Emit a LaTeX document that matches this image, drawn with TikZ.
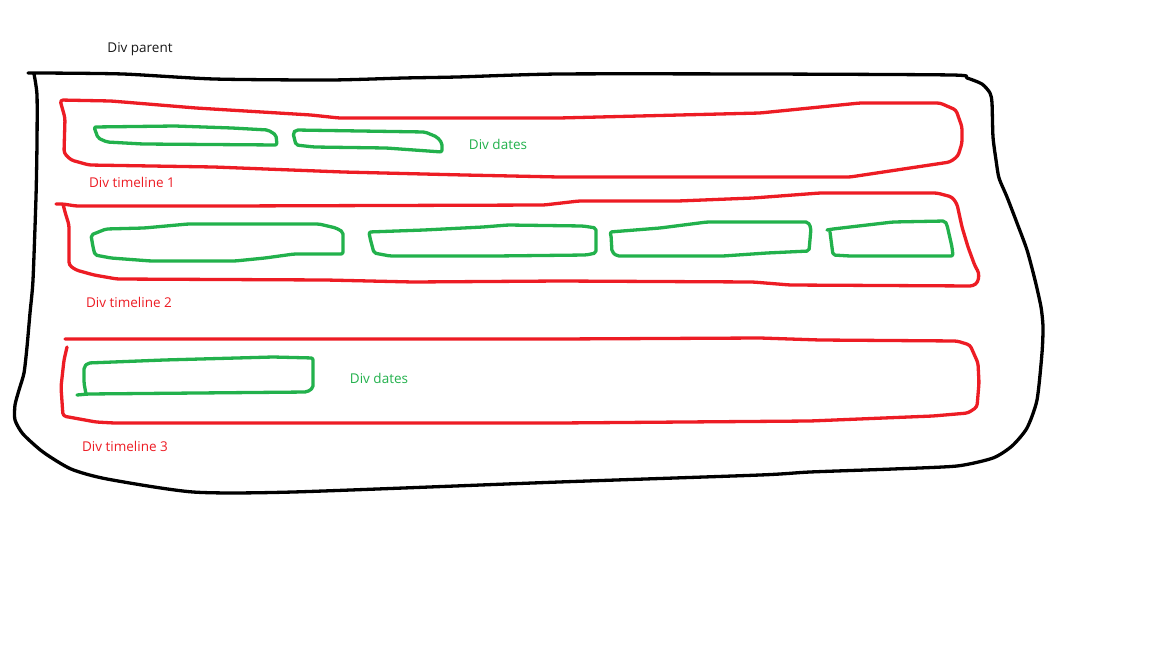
\documentclass[tikz,border=0pt]{standalone}
\usepackage{fontspec}
\setmainfont{Open Sans}
\usepackage{tikz}

\definecolor{paintred}{HTML}{ED1C24}
\definecolor{paintgreen}{HTML}{22B14C}

\begin{document}
\begin{tikzpicture}[x=1pt,y=-1pt,
    line join=round, line cap=round,
    parentline/.style = {draw=black, line width=3.3pt},
    timeline/.style = {draw=paintred, line width=3.3pt, rounded corners=3pt},
    dates/.style = {draw=paintgreen, line width=3.3pt, rounded corners=2pt},
    lbl/.style = {inner sep=0pt, font=\fontsize{13.5}{16}\selectfont}
    ]

    \useasboundingbox[fill=white] (0,0) rectangle (1152,648);

    % div parent
    \draw[parentline] plot[smooth, tension=0.4] coordinates {
        (28,73) (43,73) (123,74) (214,79) (330,80) (404,78) (457,77)
        (559,74) (760,74) (952,75) (967,78) (982,84) (990,93) (992,103)
        (993,137) (996,160) (999,178) (1007,197) (1017,223) (1027,250)
        (1035,280) (1041,307) (1043,327) (1042,353) (1037,400) (1027,428)
        (1012,446) (993,458) (957,466) (893,469) (810,472) (760,475)
        (559,482) (293,492) (193,492) (107,479) (71,469) (43,452)
        (23,434) (15,420) (15,405) (19,390) (24,373) (27,347) (30,313)
        (33,280) (36,197) (37,143) (37,95) (34,74)};
    \node[lbl, text=black!90] (parent) at (140,49) {Div parent};

    % timeline 1
    \draw[timeline] (60,100) -- (111,101) -- (196,108) -- (311,115)
        -- (339,118) -- (559,118) -- (760,113) -- (860,103) -- (940,103)
        -- (956,110) -- (962,127) -- (962,143) -- (958,156) -- (950,162)
        -- (910,168) -- (850,177) -- (760,177) -- (559,177) -- (464,175)
        -- (343,172) -- (214,167) -- (89,165) -- (71,160) -- (64,153)
        -- (65,118) -- cycle;
    \draw[dates] (94,127) -- (175,126) -- (232,128) -- (268,130)
        -- (276,135) -- (277,145) -- (143,144) -- (107,142) -- (98,138)
        -- cycle;
    \draw[dates] (293,133) -- (296,130) -- (425,132) -- (437,137)
        -- (442,143) -- (442,152) -- (386,148) -- (314,147) -- (296,145)
        -- cycle;
    \node[lbl, text=paintred] (tl1) at (132,182) {Div timeline 1};
    \node[lbl, text=paintgreen] (dates1) at (498,144) {Div dates};

    % timeline 2
    \draw[timeline] (56,204) -- (63,204) -- (76,206) -- (227,206)
        -- (544,205) -- (579,201) -- (678,201) -- (753,198) -- (820,193)
        -- (937,193) -- (952,197) -- (957,204) -- (962,227) -- (968,247)
        -- (975,266) -- (979,273) -- (978,282) -- (973,286) -- (790,285)
        -- (753,282) -- (560,281) -- (413,282) -- (326,280) -- (117,279)
        -- (94,275) -- (76,270) -- (69,265) -- (69,225) -- (65,212)
        -- (63,204);
    \draw[dates] (91,235) -- (106,229) -- (144,228) -- (188,224)
        -- (319,224) -- (336,228) -- (343,232) -- (343,254) -- (294,254)
        -- (265,258) -- (235,261) -- (151,261) -- (111,258) -- (95,255)
        -- (93,247) -- cycle;
    \draw[dates] (370,238) -- (369,232) -- (424,230) -- (483,227)
        -- (508,225) -- (583,226) -- (596,228) -- (596,253) -- (586,255)
        -- (495,256) -- (390,256) -- (374,253) -- cycle;
    \draw[dates] (611,235) -- (610,232) -- (660,228) -- (707,222)
        -- (808,222) -- (811,228) -- (809,251) -- (767,253) -- (723,256)
        -- (617,256) -- (612,252) -- cycle;
    \draw[dates] (827,230) -- (833,229) -- (850,227) -- (893,222)
        -- (945,221) -- (947,225) -- (952,247) -- (953,256) -- (850,256)
        -- (833,255) -- (830,232);
    \node[lbl, text=paintred] (tl2) at (129,302) {Div timeline 2};

    % timeline 3
    \draw[timeline] (65,339) -- (559,339) -- (760,338) -- (820,340)
        -- (957,341) -- (970,345) -- (978,363) -- (979,383) -- (977,407)
        -- (968,413) -- (933,416) -- (810,421) -- (559,423) -- (114,423)
        -- (96,422) -- (63,416) -- (61,387) -- (64,360) -- (67,347);
    \draw[dates] (77,395) -- (88,394) -- (307,392) -- (313,388)
        -- (313,358) -- (273,357) -- (164,360) -- (88,363) -- (84,367)
        -- (84,383) -- (86,394);
    \node[lbl, text=paintgreen] (dates2) at (379,378) {Div dates};
    \node[lbl, text=paintred] (tl3) at (125,446) {Div timeline 3};

\end{tikzpicture}
\end{document}
